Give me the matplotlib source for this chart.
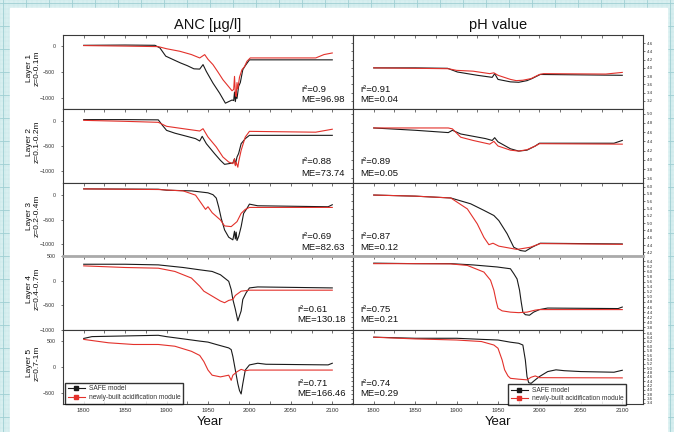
import matplotlib
matplotlib.use("Agg")
import matplotlib.pyplot as plt
from matplotlib.lines import Line2D
from matplotlib.patches import Rectangle
from matplotlib.ticker import MultipleLocator, FixedLocator, FormatStrFormatter
import numpy as np

plt.rcParams['font.family'] = ['Liberation Sans', 'DejaVu Sans']

# ---------------- data ----------------
layer_labels = ["Layer 1\nz=0-0.1m", "Layer 2\nz=0.1-0.2m", "Layer 3\nz=0.2-0.4m",
                "Layer 4\nz=0.4-0.7m", "Layer 5\nz=0.7-1m"]
series_names = ["SAFE model", "newly-built acidification module"]

anc_r2 = ["0.9", "0.88", "0.69", "0.61", "0.71"]
anc_me = ["96.98", "73.74", "82.63", "130.18", "166.46"]
ph_r2 = ["0.91", "0.89", "0.87", "0.75", "0.74"]
ph_me = ["0.04", "0.05", "0.12", "0.21", "0.29"]

# ANC layer 1
anc1_safe_yr = [1800, 1850, 1886, 1892, 1899, 1910, 1917, 1925, 1933, 1940, 1944, 1948, 1956, 1964, 1971,
                1975, 1979, 1981, 1982, 1983, 1984, 1985, 1987, 1989, 1992, 1995, 2000, 2100]
anc1_safe = [5, 10, 5, -45, -200, -280, -330, -380, -440, -445, -360, -490, -710, -900, -1090,
             -1060, -1030, -1040, -880, -1060, -950, -1000, -770, -700, -456, -380, -270, -270]
anc1_new_yr = [1800, 1850, 1890, 1900, 1916, 1930, 1940, 1946, 1950, 1956, 1962, 1968, 1974, 1979, 1981,
               1982, 1983, 1984, 1985, 1986, 1988, 1991, 1994, 1997, 2001, 2080, 2090, 2100]
anc1_new = [0, -10, -20, -60, -108, -170, -234, -171, -260, -361, -500, -646, -760, -855, -830,
            -583, -900, -963, -700, -820, -600, -456, -400, -298, -234, -234, -170, -140]
# ANC layer 2
anc2_safe_yr = [1800, 1850, 1890, 1895, 1900, 1910, 1920, 1935, 1940, 1943, 1948, 1958, 1965, 1970, 1975,
                1980, 1982, 1983, 1985, 1987, 1990, 1995, 2000, 2100]
anc2_safe = [35, 35, 30, -81, -183, -240, -284, -351, -399, -304, -453, -656, -791, -872, -858,
             -845, -760, -880, -723, -650, -453, -351, -284, -284]
anc2_new_yr = [1800, 1850, 1890, 1900, 1920, 1940, 1944, 1950, 1960, 1968, 1975, 1980, 1982, 1983, 1984,
               1986, 1987, 1990, 1995, 2000, 2080, 2100]
anc2_new = [20, 0, -20, -101, -149, -196, -149, -318, -520, -723, -825, -858, -760, -900, -830,
            -930, -820, -588, -318, -203, -220, -160]
# ANC layer 3
anc3_safe_yr = [1800, 1890, 1900, 1930, 1950, 1956, 1960, 1963, 1966, 1970, 1975, 1980, 1982, 1983, 1984,
                1985, 1987, 1990, 1993, 1997, 2000, 2010, 2095, 2100]
anc3_safe = [129, 122, 102, 88, 48, 10, -60, -250, -480, -714, -864, -918, -740, -900, -760,
             -932, -850, -646, -374, -272, -184, -218, -238, -197]
anc3_new_yr = [1800, 1890, 1920, 1935, 1942, 1947, 1950, 1955, 1965, 1970, 1978, 1985, 1990, 1995, 2000, 2100]
anc3_new = [129, 116, 88, 0, -170, -292, -238, -360, -510, -632, -646, -544, -374, -292, -252, -252]
# ANC layer 4
anc4_safe_yr = [1800, 1850, 1890, 1920, 1940, 1955, 1965, 1975, 1978, 1980, 1983, 1986, 1990, 1992, 1996,
                2000, 2010, 2100]
anc4_safe = [333, 333, 320, 267, 220, 187, 120, -13, -180, -380, -580, -814, -614, -380, -247,
             -147, -127, -147]
anc4_new_yr = [1800, 1850, 1890, 1910, 1930, 1940, 1945, 1955, 1965, 1970, 1975, 1980, 1983, 1990, 2000, 2100]
anc4_new = [300, 267, 253, 187, 53, -113, -213, -313, -413, -447, -400, -380, -300, -213, -193, -193]
# ANC layer 5
anc5_safe_yr = [1800, 1810, 1890, 1900, 1925, 1940, 1950, 1960, 1975, 1978, 1980, 1983, 1986, 1988, 1990,
                1992, 1995, 2000, 2010, 2020, 2095, 2100]
anc5_safe = [540, 575, 600, 574, 522, 490, 471, 426, 361, 329, 200, -58, -316, -445, -510,
             -316, -58, 39, 71, 52, 40, 71]
anc5_new_yr = [1800, 1830, 1860, 1890, 1910, 1930, 1940, 1945, 1950, 1955, 1965, 1975, 1978, 1980, 1985,
               1990, 1995, 2000, 2100]
anc5_new = [522, 458, 426, 426, 393, 297, 219, 103, -58, -155, -187, -155, -252, -155, -90,
            -45, -71, -58, -58]

# pH layer 1
ph1_safe_yr = [1800, 1850, 1889, 1901, 1925, 1943, 1946, 1950, 1965, 1975, 1985, 1991, 2001, 2100]
ph1_safe = [4.0, 4.0, 3.99, 3.90, 3.82, 3.77, 3.86, 3.72, 3.66, 3.65, 3.69, 3.74, 3.84, 3.82]
ph1_new_yr = [1800, 1850, 1890, 1900, 1920, 1940, 1945, 1950, 1965, 1972, 1980, 1990, 2000, 2005, 2080, 2100]
ph1_new = [4.0, 3.99, 3.98, 3.94, 3.92, 3.86, 3.88, 3.82, 3.72, 3.69, 3.70, 3.74, 3.84, 3.86, 3.85, 3.89]
# pH layer 2
ph2_safe_yr = [1800, 1850, 1890, 1895, 1905, 1920, 1935, 1943, 1946, 1950, 1965, 1975, 1985, 1995, 2000,
               2090, 2100]
ph2_safe = [4.69, 4.64, 4.59, 4.64, 4.56, 4.51, 4.46, 4.42, 4.48, 4.39, 4.24, 4.19, 4.21, 4.30, 4.36,
            4.36, 4.42]
ph2_new_yr = [1800, 1890, 1895, 1905, 1920, 1940, 1945, 1950, 1965, 1975, 1985, 1995, 2000, 2100]
ph2_new = [4.69, 4.69, 4.67, 4.49, 4.42, 4.34, 4.40, 4.30, 4.21, 4.19, 4.22, 4.30, 4.35, 4.34]
# pH layer 3
ph3_safe_yr = [1800, 1850, 1893, 1917, 1933, 1945, 1951, 1961, 1969, 1977, 1983, 1991, 2001, 2100]
ph3_safe = [5.77, 5.74, 5.69, 5.53, 5.35, 5.21, 5.07, 4.71, 4.34, 4.25, 4.23, 4.34, 4.45, 4.43]
ph3_new_yr = [1800, 1850, 1893, 1913, 1925, 1933, 1939, 1944, 1951, 1973, 1989, 2001, 2100]
ph3_new = [5.77, 5.74, 5.69, 5.39, 4.98, 4.61, 4.41, 4.45, 4.37, 4.28, 4.34, 4.44, 4.42]
# pH layer 4
ph4_safe_yr = [1800, 1850, 1893, 1920, 1949, 1965, 1969, 1973, 1976, 1978, 1980, 1983, 1988, 1993, 2000,
               2010, 2095, 2100]
ph4_safe = [6.32, 6.30, 6.30, 6.25, 6.17, 6.10, 5.91, 5.70, 5.26, 4.80, 4.40, 4.30, 4.28, 4.40, 4.50,
            4.56, 4.54, 4.60]
ph4_new_yr = [1800, 1850, 1893, 1913, 1933, 1941, 1945, 1948, 1950, 1955, 1965, 1975, 1985, 1995, 2000, 2100]
ph4_new = [6.30, 6.30, 6.29, 6.23, 5.97, 5.65, 5.26, 4.80, 4.55, 4.45, 4.40, 4.38, 4.40, 4.48, 4.50, 4.50]
# pH layer 5
ph5_safe_yr = [1800, 1850, 1900, 1930, 1950, 1965, 1975, 1980, 1983, 1985, 1987, 1990, 1995, 2000, 2010,
               2020, 2030, 2050, 2090, 2100]
ph5_safe = [6.42, 6.37, 6.37, 6.32, 6.29, 6.19, 6.14, 6.06, 5.37, 4.61, 4.33, 4.30, 4.46, 4.61, 4.84,
            4.92, 4.88, 4.84, 4.81, 4.90]
ph5_new_yr = [1800, 1850, 1900, 1930, 1945, 1950, 1955, 1958, 1962, 1965, 1975, 1985, 1990, 1995, 2000, 2100]
ph5_new = [6.42, 6.34, 6.29, 6.22, 6.06, 5.91, 5.37, 4.92, 4.64, 4.53, 4.49, 4.46, 4.58, 4.64, 4.56, 4.55]

anc_data = [(anc1_safe_yr, anc1_safe, anc1_new_yr, anc1_new),
            (anc2_safe_yr, anc2_safe, anc2_new_yr, anc2_new),
            (anc3_safe_yr, anc3_safe, anc3_new_yr, anc3_new),
            (anc4_safe_yr, anc4_safe, anc4_new_yr, anc4_new),
            (anc5_safe_yr, anc5_safe, anc5_new_yr, anc5_new)]
ph_data = [(ph1_safe_yr, ph1_safe, ph1_new_yr, ph1_new),
           (ph2_safe_yr, ph2_safe, ph2_new_yr, ph2_new),
           (ph3_safe_yr, ph3_safe, ph3_new_yr, ph3_new),
           (ph4_safe_yr, ph4_safe, ph4_new_yr, ph4_new),
           (ph5_safe_yr, ph5_safe, ph5_new_yr, ph5_new)]

anc_ylims = [(-1200, 200), (-1250, 250), (-1250, 250), (-1000, 500), (-700, 700)]
anc_ticks = [[-1000, -500, 0], [-1000, -500, 0], [-1000, -500, 0], [-1000, -500, 0, 500], [-500, 0, 500]]
ph_ylims = [(3.0, 4.8), (3.5, 5.1), (4.1, 6.1), (3.7, 6.6), (3.35, 6.75)]
ph_tick_ranges = [(3.2, 4.6), (3.6, 5.0), (4.2, 6.0), (3.8, 6.4), (3.4, 6.6)]

# ---------------- layout ----------------
W, H = 674, 432
fig = plt.figure(figsize=(W / 100, H / 100), dpi=100)

def fx(x):
    return x / W

def fy(y):
    return 1 - y / H

# background: grid paper with white sheet
bg = fig.add_axes([0, 0, 1, 1], zorder=-10)
bg.set_xlim(0, W)
bg.set_ylim(H, 0)
bg.add_patch(Rectangle((0, 0), W, H, color='#d8eff0', zorder=0))
for g in np.arange(0, W, 4.6):
    bg.axvline(g, color='#c8e6e8', lw=0.3, zorder=1)
for g in np.arange(0, H, 4.6):
    bg.axhline(g, color='#c8e6e8', lw=0.3, zorder=1)
for g in np.arange(3, W, 23):
    bg.axvline(g, color='#9fcfd3', lw=0.6, zorder=1)
for g in np.arange(3, H, 23):
    bg.axhline(g, color='#9fcfd3', lw=0.6, zorder=1)
bg.add_patch(Rectangle((10, 8), 657, 430, color='white', zorder=2))
bg.axis('off')

row_edges = [35, 109, 183, 256, 330, 404]
left_x0, mid_x, right_x1 = 63, 353, 643
black = '#1a1a1a'
red = '#e3312b'
spine_col = '#3a3a3a'

ann_y = [(89, 99.5), (162, 173), (236.5, 247), (309, 319.5), (383.5, 394)]
anc_ann_x = [301, 301, 301, 297, 297]

for i in range(5):
    top, bot = row_edges[i], row_edges[i + 1]
    h = (bot - top) / H
    axL = fig.add_axes([fx(left_x0), fy(bot), (mid_x - left_x0) / W, h])
    axR = fig.add_axes([fx(mid_x), fy(bot), (right_x1 - mid_x) / W, h])

    sy, sv, ny, nv = anc_data[i]
    axL.plot(sy, sv, color=black, lw=0.8)
    axL.plot(ny, nv, color=red, lw=0.8)
    sy, sv, ny, nv = ph_data[i]
    axR.plot(sy, sv, color=black, lw=0.8)
    axR.plot(ny, nv, color=red, lw=0.8)

    for ax in (axL, axR):
        ax.set_xlim(1775, 2125)
        ax.xaxis.set_major_locator(MultipleLocator(50))
        ax.xaxis.set_minor_locator(MultipleLocator(25))
        ax.tick_params(axis='x', which='both', top=True, bottom=(i == 4), direction='in',
                       length=2, width=0.5, color=spine_col,
                       labelbottom=(i == 4), labelsize=4.3, labelcolor='#333', pad=3)
        for s in ax.spines.values():
            s.set_color(spine_col)
            s.set_linewidth(0.8)

    axL.set_ylim(*anc_ylims[i])
    axL.yaxis.set_major_locator(FixedLocator(anc_ticks[i]))
    axL.tick_params(axis='y', left=True, right=True, direction='out', length=1.5, width=0.5,
                    color=spine_col, labelsize=3.8, labelcolor='#333', pad=4)

    axR.set_ylim(*ph_ylims[i])
    lo, hi = ph_tick_ranges[i]
    axR.yaxis.set_major_locator(FixedLocator(np.round(np.arange(lo, hi + 0.01, 0.2), 1)))
    axR.yaxis.set_major_formatter(FormatStrFormatter('%.1f'))
    axR.yaxis.tick_right()
    axR.tick_params(axis='y', left=True, right=True, labelleft=False, labelright=True,
                    direction='out', length=1.5, width=0.5, color=spine_col,
                    labelsize=3.2, labelcolor='#333', pad=1)

    if i == 3:
        axL.spines['top'].set_color('#aaaaaa')
        axL.spines['top'].set_linewidth(2)
        axR.spines['top'].set_color('#aaaaaa')
        axR.spines['top'].set_linewidth(2)

    # annotations
    fig.text(fx(anc_ann_x[i]), fy(ann_y[i][0]), "r\u00b2=" + anc_r2[i], fontsize=6.8,
             ha='left', va='center', color='#111')
    fig.text(fx(anc_ann_x[i]), fy(ann_y[i][1]), "ME=" + anc_me[i], fontsize=6.8,
             ha='left', va='center', color='#111')
    fig.text(fx(360), fy(ann_y[i][0]), "r\u00b2=" + ph_r2[i], fontsize=6.8,
             ha='left', va='center', color='#111')
    fig.text(fx(360), fy(ann_y[i][1]), "ME=" + ph_me[i], fontsize=6.8,
             ha='left', va='center', color='#111')

    # layer label
    fig.text(fx(33), fy((top + bot) / 2 - 4), layer_labels[i], rotation=90, fontsize=6,
             ha='center', va='center', multialignment='center', linespacing=1.1, color='#111')

    if i == 4:
        handles = [Line2D([], [], color=black, lw=0.8, marker='s', markersize=2.2),
                   Line2D([], [], color=red, lw=0.8, marker='s', markersize=2.2)]
        for ax, x0, y0 in ((axL, 65, 403.5), (axR, 508, 405)):
            leg = ax.legend(handles, series_names, loc='lower left',
                            bbox_to_anchor=(fx(x0), fy(y0)), bbox_transform=fig.transFigure,
                            fontsize=4.8, frameon=True, fancybox=False, handlelength=2.6,
                            handletextpad=0.6, borderpad=0.4, labelspacing=0.2,
                            borderaxespad=0, numpoints=1)
            leg.get_frame().set_edgecolor('black')
            leg.get_frame().set_linewidth(1.0)
            for t in leg.get_texts():
                t.set_color('#333')

# titles
fig.text(fx(208), fy(25), "ANC [\u00b5g/l]", fontsize=10.5, ha='center', va='center', color='#111')
fig.text(fx(498), fy(25), "pH value", fontsize=10.5, ha='center', va='center', color='#111')
fig.text(fx(210), fy(422), "Year", fontsize=9.5, ha='center', va='center', color='#111')
fig.text(fx(498), fy(422), "Year", fontsize=9.5, ha='center', va='center', color='#111')

fig.savefig("out.png", dpi=100)
